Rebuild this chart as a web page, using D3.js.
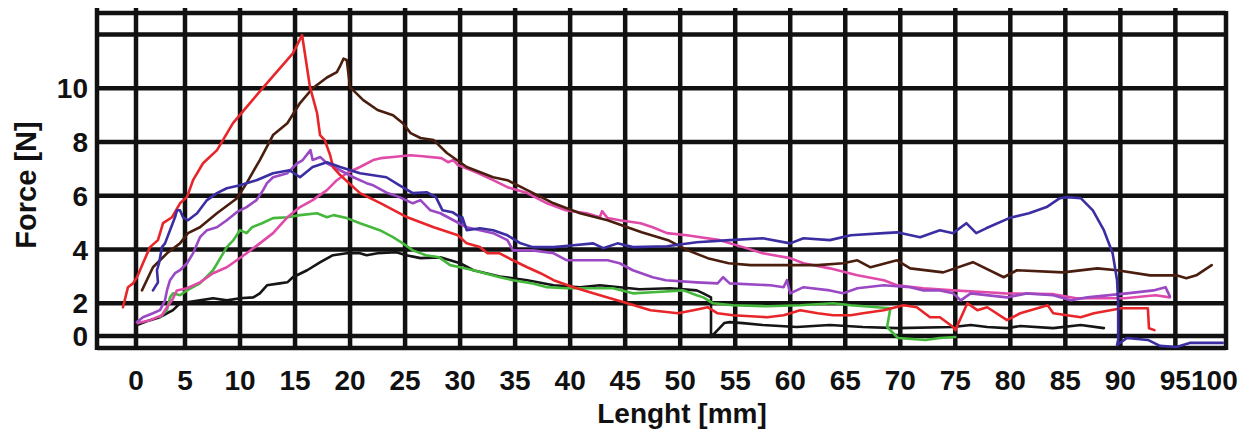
<!DOCTYPE html>
<html><head><meta charset="utf-8">
<script src="https://cdn.jsdelivr.net/npm/d3@7"></script>
<style>
html,body{margin:0;padding:0;background:#fff;}
svg{display:block;}
text{font-family:"Liberation Sans",Arial,sans-serif;font-weight:bold;fill:#111;}
</style></head>
<body>
<svg id="chart" width="1253" height="438"></svg>
<script>
// ---- data (Lenght [mm], Force [N]) ----
const xTickValues = [0,5,10,15,20,25,30,35,40,45,50,55,60,65,70,75,80,85,90,95,100];
const yTickValues = [0,2,4,6,8,10];
const yGridValues = [0,2,4,6,8,10,12];
const xLabel = "Lenght [mm]";
const yLabel = "Force [N]";

const redCurve = [[-1.17,1.76],[-0.72,2.6],[-0.27,2.74],[0.1,2.97],[0.71,3.49],[1.43,4.09],[2.24,4.35],[2.76,4.98],[3.67,5.2],[4.49,5.72],[5.18,5.95],[5.73,6.58],[6.64,7.21],[7.91,7.7],[9.36,8.7],[10.9,9.45],[12.45,10.19],[14.27,11.05],[14.8,11.3],[15.64,11.98],[16.36,10.04],[17.0,9.08],[17.27,8.26],[17.7,8.07],[18.2,7.5],[18.45,7.07],[19.1,6.77],[20.9,6.1],[22.8,5.72],[25.2,5.2],[27.6,4.83],[29.8,4.53],[30.6,4.23],[31.8,4.09],[32.5,3.86],[33.6,3.86],[34.8,3.6],[36.1,3.34],[37.3,3.12],[38.5,2.86],[40.3,2.6],[42.1,2.37],[43.4,2.22],[45.2,2.0],[47.3,1.58],[49.8,1.39],[51.2,1.58],[52.5,1.76],[53.4,1.39],[54.8,1.27],[57.9,1.15],[59.4,1.27],[60.9,1.58],[62.5,1.39],[63.9,1.27],[65.5,1.27],[66.6,1.39],[68.5,1.58],[70.3,1.88],[71.5,1.76],[72.7,1.15],[73.6,1.15],[74.8,0.55],[75.0,0.36],[76.1,2.0],[77.0,1.58],[77.9,1.76],[79.7,0.97],[80.9,1.39],[83.4,1.88],[83.9,1.39],[86.4,1.15],[87.6,1.39],[90.1,1.7],[92.5,1.7],[92.6,0.48],[93.1,0.36]];

const brownCurve = [[0.61,2.48],[1.73,3.34],[3.16,3.86],[4.49,4.23],[5.27,4.61],[6.36,4.83],[7.9,5.35],[9.73,5.91],[10.6,6.47],[11.8,7.33],[13.0,8.26],[14.3,8.7],[15.45,9.45],[16.6,10.0],[17.9,10.4],[18.8,10.6],[19.1,10.83],[19.4,11.1],[19.7,11.05],[20.0,10.04],[21.2,9.56],[22.5,9.19],[23.9,9.0],[24.8,8.7],[25.5,8.33],[26.4,8.15],[27.6,8.07],[28.8,7.59],[30.6,7.07],[33.0,6.69],[34.3,6.58],[36.1,6.21],[38.5,5.72],[40.9,5.35],[43.4,5.09],[45.2,4.83],[46.5,4.64],[48.9,4.35],[50.7,3.97],[52.5,3.68],[54.4,3.49],[56.4,3.42],[60.0,3.42],[62.5,3.42],[64.8,3.49],[66.1,3.6],[67.3,3.34],[69.7,3.6],[70.9,3.3],[73.9,3.15],[76.6,3.53],[79.4,2.97],[80.6,3.23],[84.8,3.15],[87.9,3.3],[89.7,3.23],[92.7,3.04],[95.1,3.04],[96.0,2.93],[96.9,3.04],[98.3,3.42]];

const blueCurve = [[1.73,2.48],[2.24,2.78],[2.14,3.23],[2.35,3.49],[2.65,4.09],[2.96,4.23],[3.47,4.72],[3.98,5.2],[4.18,5.46],[4.49,5.46],[4.8,5.2],[5.27,5.09],[6.1,5.35],[7.0,5.84],[7.9,6.1],[8.8,6.28],[10.0,6.39],[11.5,6.58],[13.0,6.84],[14.5,6.95],[15.45,6.69],[16.6,7.07],[17.9,7.25],[19.1,7.07],[20.9,6.84],[23.3,6.69],[24.5,6.39],[25.7,6.1],[27.0,6.13],[27.8,5.95],[28.4,5.46],[29.3,5.39],[30.0,5.2],[30.1,4.98],[30.2,5.2],[30.6,4.72],[31.8,4.79],[33.0,4.72],[34.3,4.53],[35.5,4.23],[36.6,4.09],[38.5,4.09],[40.3,4.16],[42.1,4.23],[43.0,4.05],[44.3,4.23],[45.7,4.09],[48.8,4.12],[51.5,4.27],[54.5,4.35],[57.5,4.42],[60.0,4.23],[61.2,4.42],[63.6,4.35],[65.5,4.53],[68.5,4.61],[69.7,4.64],[71.8,4.46],[73.6,4.72],[74.8,4.61],[76.0,4.98],[76.9,4.61],[77.8,4.79],[79.9,5.17],[81.7,5.35],[83.3,5.58],[84.5,5.91],[85.2,5.95],[86.4,5.91],[87.5,5.46],[88.5,4.72],[89.3,3.86],[89.7,2.86],[89.8,2.0],[89.8,-0.24],[89.7,-0.55],[90.6,-0.12],[92.5,-0.24],[93.6,-0.6],[95.1,-0.67],[96.3,-0.42],[99.3,-0.42]];

const purpleCurve = [[0.1,0.85],[0.71,1.15],[1.73,1.39],[2.45,1.58],[2.96,2.11],[3.16,2.48],[3.47,2.86],[3.98,3.12],[4.49,3.23],[5.18,3.49],[5.73,3.86],[6.36,4.46],[7.0,4.72],[7.9,4.83],[8.8,5.09],[9.7,5.39],[10.6,5.58],[11.5,5.84],[12.1,6.21],[12.45,6.47],[13.0,6.69],[14.3,6.84],[15.2,7.21],[15.7,7.33],[16.4,7.7],[16.6,7.33],[17.3,7.44],[17.9,7.21],[19.1,6.95],[20.3,6.69],[21.5,6.47],[22.1,6.39],[23.4,6.1],[24.5,5.95],[25.7,5.72],[26.4,5.84],[27.3,5.46],[28.2,5.35],[29.4,5.09],[30.6,4.83],[31.8,4.72],[33.0,4.61],[34.3,4.35],[34.8,3.97],[36.6,3.97],[38.5,3.86],[39.7,3.6],[43.4,3.6],[44.5,3.49],[45.7,3.23],[47.5,2.97],[48.7,2.86],[51.5,2.78],[53.4,2.74],[53.9,2.97],[54.5,2.74],[58.2,2.67],[59.4,2.6],[59.7,2.86],[60.0,2.37],[61.2,2.6],[63.6,2.48],[64.8,2.37],[66.1,2.56],[68.5,2.67],[70.9,2.6],[72.1,2.48],[73.6,2.48],[74.8,2.37],[75.5,2.11],[76.4,2.37],[79.7,2.22],[81.5,2.37],[83.9,2.3],[85.5,2.11],[87.0,2.22],[90.6,2.37],[93.0,2.48],[94.1,2.6],[94.5,2.26]];

const magentaCurve = [[0.2,0.79],[1.43,0.97],[2.65,1.27],[3.16,1.76],[3.67,2.11],[4.18,2.48],[5.18,2.56],[6.36,2.78],[7.55,3.12],[8.8,3.34],[9.7,3.6],[10.6,3.86],[11.8,4.23],[13.0,4.61],[14.3,5.2],[15.45,5.58],[16.6,5.84],[17.9,6.21],[18.8,6.58],[19.7,6.84],[20.9,7.07],[22.1,7.33],[22.8,7.4],[23.9,7.44],[25.5,7.51],[26.6,7.47],[28.3,7.4],[28.9,7.25],[29.4,7.33],[29.8,7.14],[31.4,6.88],[33.0,6.58],[34.3,6.32],[36.1,6.1],[37.9,5.72],[39.6,5.46],[41.5,5.35],[42.7,5.2],[42.9,5.43],[43.4,5.17],[44.5,5.09],[46.4,4.98],[47.5,4.83],[48.8,4.61],[50.6,4.53],[53.6,4.35],[55.7,4.09],[57.5,3.86],[60.0,3.68],[61.2,3.49],[63.6,3.3],[66.1,3.04],[68.5,2.86],[69.7,2.67],[72.1,2.56],[74.8,2.48],[77.9,2.41],[79.5,2.37],[83.9,2.34],[86.0,2.19],[90.4,2.19],[93.2,2.3],[94.5,2.22]];

const greenCurve = [[2.45,1.15],[3.16,1.58],[3.47,2.22],[3.78,2.37],[4.49,2.3],[5.18,2.48],[6.36,2.74],[7.55,3.23],[8.8,4.09],[9.4,4.35],[10.0,4.72],[10.6,4.61],[11.1,4.83],[12.0,4.98],[13.0,5.17],[14.3,5.2],[15.45,5.28],[17.0,5.35],[17.9,5.2],[18.5,5.28],[19.7,5.17],[20.9,4.98],[22.7,4.72],[23.9,4.46],[24.8,4.23],[25.7,3.97],[26.9,3.79],[28.1,3.71],[29.1,3.42],[30.0,3.34],[31.2,3.23],[33.6,2.97],[34.8,2.86],[36.6,2.74],[37.9,2.6],[39.6,2.56],[43.9,2.56],[45.7,2.37],[47.5,2.41],[50.3,2.48],[51.5,2.3],[52.1,2.22],[53.0,2.0],[54.8,1.88],[57.9,1.82],[60.9,1.88],[63.9,2.0],[65.5,1.88],[67.9,1.76],[69.1,1.7],[68.8,0.55],[69.8,-0.12],[72.3,-0.24],[73.6,-0.12],[75.0,-0.06]];

const blackCurve = [[0.1,0.67],[1.43,0.97],[2.45,1.15],[3.16,1.39],[3.78,1.58],[4.49,2.0],[5.18,2.04],[6.36,2.11],[7.55,2.19],[8.8,2.11],[10.0,2.19],[11.2,2.22],[11.8,2.37],[12.45,2.67],[13.6,2.74],[14.3,2.78],[14.8,2.97],[16.1,3.23],[17.3,3.53],[18.45,3.79],[19.7,3.86],[20.9,3.86],[21.5,3.79],[22.5,3.86],[24.2,3.9],[25.1,3.79],[26.4,3.68],[28.2,3.71],[30.0,3.49],[31.2,3.23],[33.6,3.0],[36.1,2.86],[38.5,2.67],[40.9,2.6],[42.7,2.67],[44.5,2.6],[46.3,2.52],[49.1,2.56],[51.5,2.48],[52.1,2.37],[52.8,2.22],[52.8,-0.06],[53.4,0.36],[54.0,0.79],[54.5,0.85],[55.7,0.79],[57.5,0.67],[60.6,0.55],[63.6,0.67],[66.6,0.55],[69.7,0.48],[74.8,0.55],[76.4,0.67],[77.9,0.55],[79.7,0.48],[80.9,0.61],[83.9,0.48],[86.4,0.67],[88.5,0.48]];

const seriesNames = ["black","green","magenta","purple","brown","red","blue"];
const seriesData = [blackCurve, greenCurve, magentaCurve, purpleCurve, brownCurve, redCurve, blueCurve];
const seriesColors = ["#151515","#45b83c","#e04aa8","#9a48c4","#4a1e0e","#e8262a","#3b2ea2"];

// ---- drawing ----
const svg = d3.select("#chart");
const x = d3.scaleLinear().domain([-3.5, 0, 5, 99.6]).range([97, 136, 185, 1226]);
const y = d3.scaleLinear().domain([-0.73, 0, 2, 12.8]).range([348, 336, 303.3, 13]);
const [xMin, xMax] = [x.domain()[0], x.domain()[x.domain().length-1]];
const [yMin, yMax] = [y.domain()[0], y.domain()[y.domain().length-1]];

const grid = svg.append("g").attr("stroke", "#111").attr("stroke-width", 4.5);
// horizontal grid lines (including frame top/bottom)
grid.selectAll("line.h").data([yMax, ...yGridValues, yMin]).join("line")
  .attr("x1", x(xMin)).attr("x2", x(xMax))
  .attr("y1", d => y(d)).attr("y2", d => y(d));
// vertical grid lines
const vVals = xTickValues.filter(v => v < xMax);
grid.selectAll("line.v").data([xMin, ...vVals]).join("line")
  .attr("x1", d => x(d)).attr("x2", d => x(d))
  .attr("y1", y(yMax) - 5).attr("y2", y(yMin) + 2);
grid.append("line").attr("x1", x(xMax)).attr("x2", x(xMax))
  .attr("y1", y(yMax) - 2).attr("y2", y(yMin) + 2);

// curves
const line = d3.line().x(d => x(d[0])).y(d => y(d[1]));
svg.append("g").selectAll("path").data(seriesData).join("path")
  .attr("d", line)
  .attr("fill", "none")
  .attr("stroke", (d, i) => seriesColors[i])
  .attr("stroke-width", 2.6)
  .attr("stroke-linejoin", "round")
  .attr("stroke-linecap", "round");

// x tick labels
svg.append("g").selectAll("text").data(xTickValues).join("text")
  .attr("x", d => x(d) + (d === 100 ? -16 : 0))
  .attr("y", 390)
  .attr("text-anchor", "middle")
  .attr("font-size", 28)
  .text(d => d);

// y tick labels
svg.append("g").selectAll("text").data(yTickValues).join("text")
  .attr("x", 88)
  .attr("y", d => y(d) + 10)
  .attr("text-anchor", "end")
  .attr("font-size", 28)
  .text(d => d);

// axis titles
svg.append("text").attr("x", 682).attr("y", 423)
  .attr("text-anchor", "middle").attr("font-size", 28).text(xLabel);
svg.append("text").attr("transform", "translate(36,185) rotate(-90)")
  .attr("text-anchor", "middle").attr("font-size", 29).text(yLabel);
</script>
</body></html>
